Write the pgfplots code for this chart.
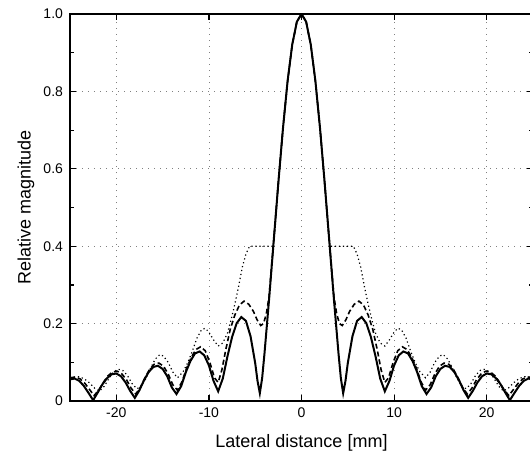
\documentclass[border=0pt]{standalone}
\usepackage{fontspec}
\setmainfont{Liberation Sans}
\usepackage{pgfplots}
\pgfplotsset{compat=1.18}
\usepackage{pgfplotstable}

% solid curve
\pgfplotstableread{
x y
-25 0.056
-24.5 0.058
-24 0.052
-23.5 0.039
-23 0.021
-22.5 0.002
-22 0.022
-21.5 0.043
-21 0.059
-20.5 0.069
-20 0.071
-19.5 0.064
-19 0.048
-18.5 0.026
-18 0.008
-17.5 0.028
-17 0.054
-16.5 0.075
-16 0.088
-15.5 0.091
-15 0.083
-14.5 0.064
-14 0.035
-13.5 0.018
-13 0.038
-12.5 0.074
-12 0.103
-11.5 0.123
-11 0.128
-10.5 0.118
-10 0.092
-9.5 0.052
-9 0.025
-8.5 0.058
-8 0.115
-7.5 0.165
-7 0.201
-6.5 0.217
-6 0.207
-5.5 0.167
-5 0.098
-4.75 0.052
-4.5 0.020
-4.25 0.059
-4 0.122
-3.5 0.263
-3 0.414
-2.5 0.564
-2 0.705
-1.5 0.827
-1 0.921
-0.5 0.980
0 1.000
0.5 0.980
1 0.921
1.5 0.827
2 0.705
2.5 0.564
3 0.414
3.5 0.263
4 0.122
4.25 0.059
4.5 0.020
4.75 0.052
5 0.098
5.5 0.167
6 0.207
6.5 0.217
7 0.201
7.5 0.165
8 0.115
8.5 0.058
9 0.025
9.5 0.052
10 0.092
10.5 0.118
11 0.128
11.5 0.123
12 0.103
12.5 0.074
13 0.038
13.5 0.018
14 0.035
14.5 0.064
15 0.083
15.5 0.091
16 0.088
16.5 0.075
17 0.054
17.5 0.028
18 0.008
18.5 0.026
19 0.048
19.5 0.064
20 0.071
20.5 0.069
21 0.059
21.5 0.043
22 0.022
22.5 0.002
23 0.021
23.5 0.039
24 0.052
24.5 0.058
25 0.056
}\solid

% dashed curve
\pgfplotstableread{
x y
-25 0.060
-24.4 0.062
-23.9 0.057
-23.4 0.046
-22.9 0.030
-22.4 0.014
-21.9 0.028
-21.4 0.048
-20.9 0.065
-20.4 0.075
-19.9 0.077
-19.4 0.070
-18.9 0.055
-18.4 0.033
-17.9 0.018
-17.4 0.035
-16.9 0.060
-16.4 0.082
-15.9 0.095
-15.4 0.098
-14.9 0.090
-14.4 0.070
-13.9 0.042
-13.4 0.028
-12.9 0.050
-12.4 0.085
-11.9 0.113
-11.4 0.133
-10.9 0.140
-10.4 0.130
-9.9 0.100
-9.4 0.060
-9.0 0.048
-8.6 0.080
-8.2 0.130
-7.7 0.185
-7.2 0.222
-6.7 0.248
-6.2 0.258
-5.7 0.250
-5.2 0.232
-4.8 0.210
-4.4 0.195
-4.1 0.200
-3.8 0.225
-3.5 0.270
-3 0.414
-2.5 0.564
-2 0.705
-1.5 0.827
-1 0.921
-0.5 0.980
0 1.000
0.5 0.980
1 0.921
1.5 0.827
2 0.705
2.5 0.564
3 0.414
3.5 0.270
3.8 0.225
4.1 0.200
4.4 0.195
4.8 0.210
5.2 0.232
5.7 0.250
6.2 0.258
6.7 0.248
7.2 0.222
7.7 0.185
8.2 0.130
8.6 0.080
9.0 0.048
9.4 0.060
9.9 0.100
10.4 0.130
10.9 0.140
11.4 0.133
11.9 0.113
12.4 0.085
12.9 0.050
13.4 0.028
13.9 0.042
14.4 0.070
14.9 0.090
15.4 0.098
15.9 0.095
16.4 0.082
16.9 0.060
17.4 0.035
17.9 0.018
18.4 0.033
18.9 0.055
19.4 0.070
19.9 0.077
20.4 0.075
20.9 0.065
21.4 0.048
21.9 0.028
22.4 0.014
22.9 0.030
23.4 0.046
23.9 0.057
24.4 0.062
25 0.060
}\dashed

% dotted curve
\pgfplotstableread{
x y
-25 0.060
-24.6 0.062
-24.1 0.063
-23.5 0.058
-22.9 0.047
-22.3 0.032
-21.8 0.026
-21.3 0.038
-20.8 0.058
-20.3 0.075
-19.8 0.082
-19.3 0.079
-18.8 0.066
-18.3 0.045
-17.8 0.032
-17.4 0.035
-16.8 0.058
-16.3 0.085
-15.8 0.108
-15.3 0.120
-14.9 0.116
-14.4 0.100
-13.9 0.075
-13.4 0.060
-12.8 0.075
-12.3 0.098
-11.8 0.128
-11.3 0.162
-10.8 0.184
-10.4 0.188
-10.0 0.178
-9.5 0.158
-9.0 0.142
-8.5 0.150
-8.0 0.175
-7.6 0.210
-7.2 0.250
-6.8 0.295
-6.4 0.345
-6.0 0.380
-5.6 0.400
-5 0.400
-4 0.400
-3.1 0.400
-3 0.414
-2.5 0.564
-2 0.705
-1.5 0.827
-1 0.921
-0.5 0.980
0 1.000
0.5 0.980
1 0.921
1.5 0.827
2 0.705
2.5 0.564
3 0.414
3.1 0.400
4 0.400
5 0.400
5.6 0.400
6.0 0.380
6.4 0.345
6.8 0.295
7.2 0.250
7.6 0.210
8.0 0.175
8.5 0.150
9.0 0.142
9.5 0.158
10.0 0.178
10.4 0.188
10.8 0.184
11.3 0.162
11.8 0.128
12.3 0.098
12.8 0.075
13.4 0.060
13.9 0.075
14.4 0.100
14.9 0.116
15.3 0.120
15.8 0.108
16.3 0.085
16.8 0.058
17.4 0.035
17.8 0.032
18.3 0.045
18.8 0.066
19.3 0.079
19.8 0.082
20.3 0.075
20.8 0.058
21.3 0.038
21.8 0.026
22.3 0.032
22.9 0.047
23.5 0.058
24.1 0.063
24.6 0.062
25 0.060
}\dotted

\begin{document}
\begin{tikzpicture}
\begin{axis}[
  width=231.5pt, height=193.5pt, scale only axis,
  at={(0,0)}, anchor=south west,
  xmin=-25, xmax=25, ymin=0, ymax=1,
  xtick={-20,-10,0,10,20}, xticklabels={-20,-10,0,10,20},
  ytick={0,0.2,0.4,0.6,0.8,1}, yticklabels={0,0.2,0.4,0.6,0.8,1.0},
  minor ytick={0.1,0.3,0.5,0.7,0.9},
  grid=major,
  major grid style={gray, line width=0.4pt, dash pattern=on 0.5pt off 2.5pt},
  axis line style={line width=0.9pt},
  tick style={black, line width=0.6pt},
  major tick length=3pt, minor tick length=2pt,
  tick label style={font=\fontsize{7}{8}\selectfont},
  label style={font=\fontsize{9}{10.5}\selectfont},
  xlabel={Lateral distance [mm]}, ylabel={Relative magnitude},
  xlabel style={at={(axis description cs:0.5,-0.109)}, anchor=center},
  ylabel style={at={(axis description cs:-0.095,0.5)}, anchor=center},
]
\addplot[black, line width=0.6pt, dash pattern=on 0.6pt off 1.4pt] table[x=x, y=y] {\dotted};
\addplot[black, line width=0.8pt, dash pattern=on 2.5pt off 1.5pt] table[x=x, y=y] {\dashed};
\addplot[black, line width=1pt] table[x=x, y=y] {\solid};
\end{axis}
\pgfresetboundingbox
\useasboundingbox (-35pt,-27.5pt) rectangle (230pt,200.5pt);
\end{tikzpicture}
\end{document}
